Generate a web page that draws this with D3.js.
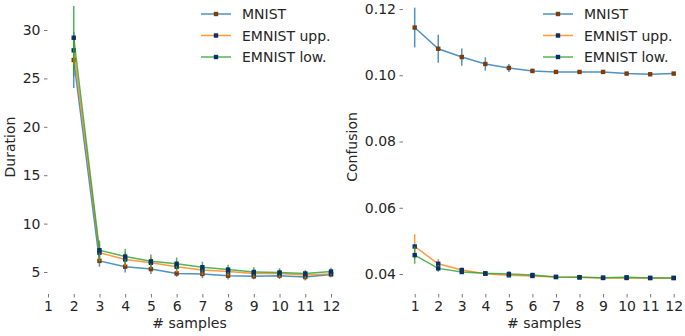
<!DOCTYPE html>
<html>
<head>
<meta charset="utf-8">
<script src="https://cdn.jsdelivr.net/npm/d3@7"></script>
<style>
  body { margin: 0; background: #fff; }
  svg text { font-family: "DejaVu Sans", sans-serif; fill: #262626; }
</style>
</head>
<body>
<div id="chart"></div>
<script>
// samples on the x axis
const xTicks = [1, 2, 3, 4, 5, 6, 7, 8, 9, 10, 11, 12];
const seriesNames = ["MNIST", "EMNIST upp.", "EMNIST low."];

// left panel: duration (samples 2..12)
const durSamples = [2, 3, 4, 5, 6, 7, 8, 9, 10, 11, 12];
const durMnist = [26.9, 6.15, 5.55, 5.3, 4.85, 4.8, 4.62, 4.55, 4.62, 4.48, 4.75];
const durMnistErr = [2.9, 0.6, 0.6, 0.5, 0.35, 0.45, 0.4, 0.3, 0.35, 0.35, 0.3];
const durUpp = [27.9, 7.0, 6.3, 5.95, 5.55, 5.2, 5.05, 4.85, 4.85, 4.7, 4.8];
const durUppErr = [1.5, 0.9, 0.7, 0.6, 0.6, 0.5, 0.45, 0.4, 0.4, 0.35, 0.35];
const durLow = [29.2, 7.25, 6.6, 6.1, 5.85, 5.5, 5.25, 5.0, 4.95, 4.85, 5.05];
const durLowErr = [4.0, 1.0, 0.8, 0.7, 0.65, 0.55, 0.5, 0.5, 0.45, 0.35, 0.4];
const durTicks = [5, 10, 15, 20, 25, 30];

// right panel: confusion (samples 1..12)
const confSamples = [1, 2, 3, 4, 5, 6, 7, 8, 9, 10, 11, 12];
const confMnist = [0.1144, 0.1080, 0.1055, 0.1034, 0.1022, 0.1013, 0.1010, 0.1010, 0.1010, 0.1005, 0.1003, 0.1005];
const confMnistErr = [0.0060, 0.0042, 0.0026, 0.0020, 0.0012, 0.0007, 0.0003, 0.0003, 0.0003, 0.0003, 0.0002, 0.0002];
const confUpp = [0.0483, 0.0431, 0.0412, 0.0401, 0.0396, 0.0394, 0.0391, 0.0390, 0.0388, 0.0388, 0.0388, 0.0388];
const confUppErr = [0.0037, 0.0014, 0.0008, 0.0006, 0.0005, 0.0004, 0.0002, 0.0002, 0.0002, 0.0002, 0.0002, 0.0002];
const confLow = [0.0457, 0.0417, 0.0406, 0.0402, 0.0400, 0.0397, 0.0391, 0.0390, 0.0389, 0.0390, 0.0388, 0.0388];
const confLowErr = [0.0026, 0.0010, 0.0005, 0.0007, 0.0008, 0.0005, 0.0002, 0.0002, 0.0002, 0.0004, 0.0002, 0.0002];
const confTicks = [0.04, 0.06, 0.08, 0.10, 0.12];

const lineColors = ["#1f77b4", "#ff7f0e", "#2ca02c"];
const markerColors = ["#7f3b08", "#08306b", "#08306b"];
const fontSize = "14px";

const svg = d3.select("#chart").append("svg")
    .attr("width", 685)
    .attr("height", 336);

function drawPanel(cfg) {
    const x = d3.scaleLinear().domain([1, 12]).range(cfg.xRange);
    const y = d3.scaleLinear().domain(cfg.yDomain).range(cfg.yRange);
    const g = svg.append("g");

    // y ticks (no spine, just small ticks)
    const yAxis = g.append("g")
        .attr("transform", `translate(${cfg.spineX},0)`)
        .call(d3.axisLeft(y).tickValues(cfg.yTicks).tickSize(3.5).tickPadding(3.5).tickFormat(cfg.yFormat));
    yAxis.select(".domain").remove();

    const xAxis = g.append("g")
        .attr("transform", `translate(0,${cfg.spineY})`)
        .call(d3.axisBottom(x).tickValues(xTicks).tickSize(3.5).tickPadding(4).tickFormat(d3.format("d")));
    xAxis.select(".domain").remove();

    g.selectAll(".tick line").attr("stroke", "#555").attr("stroke-width", 0.8);
    g.selectAll(".tick text").style("font-size", fontSize).attr("fill", "#262626");

    const clipId = "clip" + cfg.id;
    svg.append("clipPath").attr("id", clipId)
        .append("rect").attr("x", cfg.spineX).attr("y", cfg.clipTop)
        .attr("width", cfg.xRange[1] - cfg.spineX + 12).attr("height", cfg.spineY - cfg.clipTop);

    const plot = g.append("g").attr("clip-path", `url(#${clipId})`);
    const line = d3.line().x(d => x(d.x)).y(d => y(d.y));

    cfg.series.forEach((s, i) => {
        const pts = cfg.samples.map((xv, j) => ({ x: xv, y: s.values[j], e: s.errs[j] }));
        plot.append("path")
            .datum(pts)
            .attr("d", line)
            .attr("fill", "none")
            .attr("stroke", lineColors[i])
            .attr("stroke-opacity", 0.8)
            .attr("stroke-width", 1.5);
        plot.selectAll(null)
            .data(pts)
            .join("line")
            .attr("x1", d => x(d.x)).attr("x2", d => x(d.x))
            .attr("y1", d => y(d.y - d.e)).attr("y2", d => y(d.y + d.e))
            .attr("stroke", lineColors[i])
            .attr("stroke-opacity", 0.8)
            .attr("stroke-width", 1.5);
        plot.selectAll(null)
            .data(pts)
            .join("rect")
            .attr("x", d => x(d.x) - 2.2).attr("y", d => y(d.y) - 2.2)
            .attr("width", 4.4).attr("height", 4.4)
            .attr("fill", markerColors[i]);
    });

    // legend
    const leg = g.append("g");
    seriesNames.forEach((name, i) => {
        const ly = 14 + i * 21.5;
        leg.append("line")
            .attr("x1", cfg.legendX).attr("x2", cfg.legendX + 30)
            .attr("y1", ly).attr("y2", ly)
            .attr("stroke", lineColors[i]).attr("stroke-opacity", 0.8).attr("stroke-width", 1.5);
        leg.append("rect")
            .attr("x", cfg.legendX + 15 - 2.2).attr("y", ly - 2.2)
            .attr("width", 4.4).attr("height", 4.4)
            .attr("fill", markerColors[i]);
        leg.append("text")
            .attr("x", cfg.legendX + 41).attr("y", ly)
            .attr("dy", "0.36em")
            .style("font-size", fontSize)
            .text(name);
    });

    // axis labels
    g.append("text")
        .attr("x", (cfg.xRange[0] + cfg.xRange[1]) / 2)
        .attr("y", 328)
        .attr("text-anchor", "middle")
        .style("font-size", fontSize)
        .text("# samples");
    g.append("text")
        .attr("transform", `translate(${cfg.labelX},147) rotate(-90)`)
        .attr("text-anchor", "middle")
        .style("font-size", fontSize)
        .text(cfg.yLabel);
}

drawPanel({
    id: "dur",
    xRange: [48, 331],
    yDomain: [5, 30],
    yRange: [272, 30],
    yTicks: durTicks,
    yFormat: d3.format("d"),
    spineX: 47.5,
    spineY: 294,
    clipTop: 6,
    samples: durSamples,
    series: [
        { values: durMnist, errs: durMnistErr },
        { values: durUpp, errs: durUppErr },
        { values: durLow, errs: durLowErr }
    ],
    legendX: 201,
    labelX: 15,
    yLabel: "Duration"
});

drawPanel({
    id: "conf",
    xRange: [414.7, 673.7],
    yDomain: [0.04, 0.12],
    yRange: [274, 9],
    yTicks: confTicks,
    yFormat: d3.format(".2f"),
    spineX: 403,
    spineY: 294,
    clipTop: 0,
    samples: confSamples,
    series: [
        { values: confMnist, errs: confMnistErr },
        { values: confUpp, errs: confUppErr },
        { values: confLow, errs: confLowErr }
    ],
    legendX: 543,
    labelX: 357,
    yLabel: "Confusion"
});
</script>
</body>
</html>
